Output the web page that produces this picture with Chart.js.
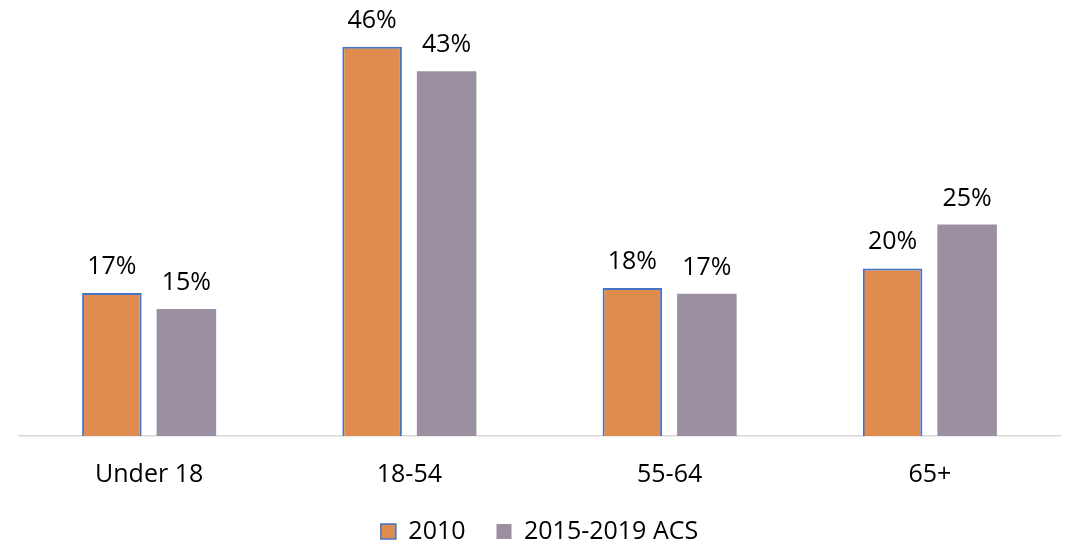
<!DOCTYPE html>
<html>
<head>
<meta charset="utf-8">
<script src="https://cdn.jsdelivr.net/npm/chart.js@4/dist/chart.umd.min.js"></script>
<style>
html,body{margin:0;padding:0;background:#fff;}
#wrap{width:1071px;height:547px;position:relative;}
</style>
</head>
<body>
<div id="wrap"><canvas id="c" width="1071" height="547"></canvas></div>
<script>
const categories = ["Under 18", "18-54", "55-64", "65+"];
const seriesNames = ["2010", "2015-2019 ACS"];
const values2010 = [16.9, 46.0, 17.5, 19.8];
const valuesACS = [15.0, 43.1, 16.8, 25.0];
const labels2010 = ["17%", "46%", "18%", "20%"];
const labelsACS = ["15%", "43%", "17%", "25%"];

const FONT = "'Open Sans', sans-serif";

const barLabels = {
  id: 'barLabels',
  afterDatasetsDraw(chart) {
    const ctx = chart.ctx;
    ctx.save();
    ctx.font = "25px " + FONT;
    ctx.fillStyle = '#000';
    ctx.textAlign = 'center';
    ctx.textBaseline = 'alphabetic';
    const lbls = [labels2010, labelsACS];
    chart.data.datasets.forEach((ds, di) => {
      chart.getDatasetMeta(di).data.forEach((bar, i) => {
        ctx.fillText(lbls[di][i], bar.x, bar.y - 19);
      });
    });
    ctx.restore();
  }
};

new Chart(document.getElementById('c'), {
  type: 'bar',
  data: {
    labels: categories,
    datasets: [
      {
        label: seriesNames[0],
        data: values2010,
        backgroundColor: '#DF8C4E',
        borderColor: '#4472C4',
        borderWidth: {top: 2, left: 2, right: 2, bottom: 0},
        borderSkipped: 'bottom',
        categoryPercentage: 0.5725,
        barPercentage: 0.799
      },
      {
        label: seriesNames[1],
        data: valuesACS,
        backgroundColor: '#9A90A2',
        borderWidth: 0,
        categoryPercentage: 0.5725,
        barPercentage: 0.799
      }
    ]
  },
  options: {
    responsive: false,
    animation: false,
    layout: { padding: { top: 13, left: 19, right: 11, bottom: -7 } },
    scales: {
      x: {
        grid: { display: false, drawTicks: false },
        border: { display: true, color: '#D9D9D9', width: 1.5 },
        ticks: { color: '#000', font: { family: FONT, size: 25 }, padding: 24 }
      },
      y: {
        display: false,
        min: 0,
        max: 50
      }
    },
    plugins: {
      legend: {
        position: 'bottom',
        labels: {
          color: '#000',
          font: { family: FONT, size: 25 },
          boxWidth: 15,
          boxHeight: 15,
          padding: 5,
          generateLabels(chart) {
            const items = Chart.defaults.plugins.legend.labels.generateLabels(chart);
            items.forEach((it, i) => {
              if (i < items.length - 1) it.text = it.text + '    ';
              it.lineWidth = i === 0 ? 1.5 : 0;
            });
            return items;
          }
        }
      },
      tooltip: { enabled: false }
    }
  },
  plugins: [barLabels]
});
</script>
</body>
</html>
